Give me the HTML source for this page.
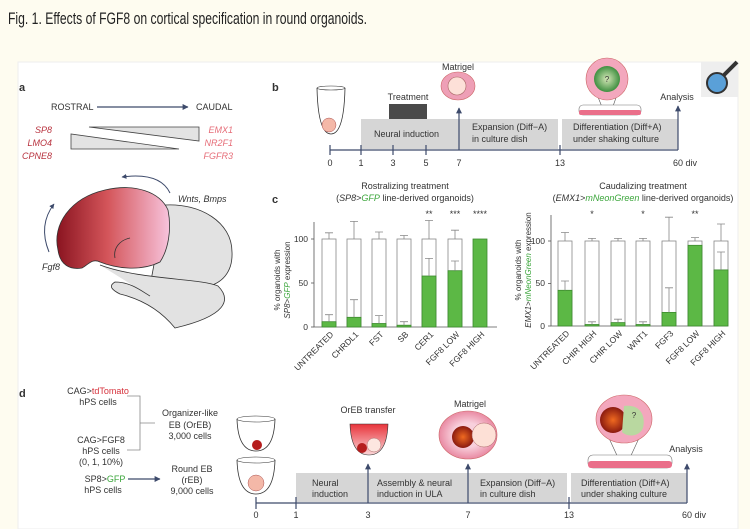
<!DOCTYPE html>
<html><head><meta charset="utf-8"><style>
html,body{margin:0;padding:0;background:#fefcf0;}
svg{display:block;font-family:"Liberation Sans",sans-serif;}
</style></head><body>
<svg width="750" height="529" viewBox="0 0 750 529" xmlns="http://www.w3.org/2000/svg">
<defs>
<linearGradient id="ctx" x1="0" x2="1" y1="0" y2="0">
<stop offset="0" stop-color="#8a1420"/><stop offset="0.45" stop-color="#d4555a"/><stop offset="1" stop-color="#f7c3dc"/></linearGradient>
<radialGradient id="pk"><stop offset="0.5" stop-color="#f8d0dc"/><stop offset="1" stop-color="#e98aa3"/></radialGradient>
<radialGradient id="rb"><stop offset="0" stop-color="#f06a20"/><stop offset="1" stop-color="#8a1a10"/></radialGradient>
<radialGradient id="gb"><stop offset="0" stop-color="#d6e8b8"/><stop offset="1" stop-color="#3f8f40"/></radialGradient>
<linearGradient id="cupr" x1="0" x2="0" y1="0" y2="1"><stop offset="0" stop-color="#e8333a"/><stop offset="1" stop-color="#fbd6d8"/></linearGradient>
<marker id="ah" viewBox="0 0 10 10" refX="9" refY="5" markerWidth="5" markerHeight="5" orient="auto"><path d="M0,0 L10,5 L0,10 z" fill="#3d4a6b"/></marker>
</defs>
<rect x="0" y="0" width="750" height="529" fill="#fefcf0"/>
<text x="8" y="24" font-size="17" fill="#222" textLength="359" lengthAdjust="spacingAndGlyphs">Fig. 1. Effects of FGF8 on cortical specification in round organoids.</text>
<rect x="18" y="62" width="720" height="467" fill="#fff" stroke="#eee"/>
<rect x="701" y="62" width="37" height="35" fill="#eeeeee"/>
<circle cx="717" cy="83" r="10" fill="#5aa0d8" stroke="#333" stroke-width="2"/>
<line x1="724" y1="75" x2="737" y2="62" stroke="#333" stroke-width="4"/>

<g font-size="9" fill="#333">
<!-- panel a -->
<text x="19" y="91" font-size="11" font-weight="bold">a</text>
<text x="51" y="110">ROSTRAL</text>
<line x1="97" y1="107" x2="188" y2="107" stroke="#3d4a6b" stroke-width="1.2" marker-end="url(#ah)"/>
<text x="196" y="110">CAUDAL</text>
<polygon points="89,127 199,127 199,141" fill="#e3e3e3" stroke="#444" stroke-width="0.8"/>
<polygon points="71,134 71,149 179,149" fill="#e3e3e3" stroke="#444" stroke-width="0.8"/>
<g font-style="italic" fill="#b8323e" text-anchor="end"><text x="52" y="133">SP8</text><text x="52" y="146">LMO4</text><text x="52" y="159">CPNE8</text></g>
<g font-style="italic" fill="#e66d78" text-anchor="end"><text x="233" y="133">EMX1</text><text x="233" y="146">NR2F1</text><text x="233" y="159">FGFR3</text></g>
<path d="M165,205 C200,203 232,222 232,252 C233,272 222,284 205,287 L150,286 Z" fill="#e2e2e2" stroke="#333" stroke-width="0.8"/>
<path d="M100,265 C140,280 200,278 218,286 C232,300 226,316 175,328 C162,312 145,300 120,294 C112,290 108,286 115,282 C130,282 140,290 150,296" fill="#e2e2e2" stroke="#333" stroke-width="0.8"/>
<path d="M58,250 C52,225 70,198 105,190 C135,183 160,192 168,210 C172,230 168,250 160,262 C140,272 115,268 100,262 C92,258 88,265 82,268 C70,270 60,265 58,250 Z" fill="url(#ctx)" stroke="#333" stroke-width="0.8"/>
<path d="M115,258 C113,248 120,240 130,238" fill="none" stroke="#333" stroke-width="0.8"/>
<path d="M170,193 Q160,172 122,177" fill="none" stroke="#3d4a6b" stroke-width="1" marker-end="url(#ah)"/>
<path d="M49,252 Q38,225 54,204" fill="none" stroke="#3d4a6b" stroke-width="1" marker-end="url(#ah)"/>
<text x="178" y="202" font-style="italic">Wnts, Bmps</text>
<text x="42" y="270" font-style="italic">Fgf8</text>

<!-- panel b -->
<text x="272" y="91" font-size="11" font-weight="bold">b</text>
<path d="M317,88 Q318,134 331,134 Q344,134 345,88" fill="#fff" stroke="#333" stroke-width="0.8"/>
<ellipse cx="331" cy="88" rx="14" ry="2" fill="#fff" stroke="#333" stroke-width="0.6"/>
<circle cx="329" cy="125" r="7" fill="#f4b8a8" stroke="#a55" stroke-width="0.5"/>
<rect x="361" y="119" width="197" height="30" fill="#d6d6d6"/>
<rect x="562" y="119" width="116" height="30" fill="#d6d6d6"/>
<rect x="389" y="104" width="38" height="15" fill="#4a4a4a"/>
<text x="408" y="100" text-anchor="middle">Treatment</text>
<text x="374" y="137">Neural induction</text>
<text x="472" y="130">Expansion (Diff−A)</text><text x="472" y="142">in culture dish</text>
<text x="573" y="130">Differentiation (Diff+A)</text><text x="573" y="142">under shaking culture</text>
<line x1="330" y1="150" x2="678" y2="150" stroke="#3d4a6b" stroke-width="1.2"/>
<g stroke="#3d4a6b" stroke-width="1.2"><line x1="330" y1="145" x2="330" y2="155"/><line x1="361" y1="145" x2="361" y2="155"/><line x1="393" y1="145" x2="393" y2="155"/><line x1="426" y1="145" x2="426" y2="155"/><line x1="560" y1="145" x2="560" y2="155"/></g>
<line x1="459" y1="150" x2="459" y2="108" stroke="#3d4a6b" stroke-width="1.2" marker-end="url(#ah)"/>
<line x1="678" y1="150" x2="678" y2="106" stroke="#3d4a6b" stroke-width="1.2" marker-end="url(#ah)"/>
<g text-anchor="middle"><text x="330" y="166">0</text><text x="361" y="166">1</text><text x="393" y="166">3</text><text x="426" y="166">5</text><text x="459" y="166">7</text><text x="560" y="166">13</text><text x="685" y="166">60 div</text></g>
<ellipse cx="458" cy="86" rx="17" ry="14" fill="#ee9fb6" stroke="#c66" stroke-width="0.6"/>
<circle cx="457" cy="86" r="9" fill="#fde0d8" stroke="#a66" stroke-width="0.6"/>
<text x="458" y="70" text-anchor="middle">Matrigel</text>
<line x1="596" y1="92" x2="604" y2="112" stroke="#555" stroke-width="0.6"/><line x1="618" y1="92" x2="611" y2="112" stroke="#555" stroke-width="0.6"/>
<rect x="579" y="105" width="62" height="10" rx="4" fill="#fff" stroke="#777" stroke-width="0.6"/>
<rect x="579" y="110" width="62" height="5" rx="2" fill="#ea6f8a"/>
<circle cx="607" cy="79" r="21" fill="#f3a7bd" stroke="#c66" stroke-width="0.6"/>
<circle cx="607" cy="79" r="13" fill="url(#gb)"/>
<text x="607" y="82" text-anchor="middle" font-size="8">?</text>
<text x="677" y="100" text-anchor="middle">Analysis</text>

<!-- panel c -->
<text x="272" y="203" font-size="11" font-weight="bold">c</text>
<text x="405" y="189" text-anchor="middle">Rostralizing treatment</text>
<text x="405" y="201" text-anchor="middle">(<tspan font-style="italic">SP8</tspan>&gt;<tspan font-style="italic" fill="#3aa53a">GFP</tspan> line-derived organoids)</text>
<text x="643" y="189" text-anchor="middle">Caudalizing treatment</text>
<text x="643" y="201" text-anchor="middle">(<tspan font-style="italic">EMX1</tspan>&gt;<tspan font-style="italic" fill="#3aa53a">mNeonGreen</tspan> line-derived organoids)</text>
<g stroke="#555" stroke-width="0.8" fill="none">
<path d="M314,222 L314,327 L497,327"/><line x1="311" y1="239" x2="314" y2="239"/><line x1="311" y1="283" x2="314" y2="283"/><line x1="311" y1="327" x2="314" y2="327"/>
<path d="M551,215 L551,326 L727,326"/><line x1="548" y1="241" x2="551" y2="241"/><line x1="548" y1="283.5" x2="551" y2="283.5"/><line x1="548" y1="326" x2="551" y2="326"/>
</g>
<g text-anchor="end" font-size="8.5"><text x="308" y="242">100</text><text x="308" y="286">50</text><text x="308" y="330">0</text><text x="545" y="244">100</text><text x="545" y="286">50</text><text x="545" y="329">0</text></g>
<g font-size="8" text-anchor="middle">
<text transform="translate(280,280) rotate(-90)">% organoids with</text>
<text transform="translate(290,280) rotate(-90)"><tspan font-style="italic">SP8</tspan>&gt;<tspan font-style="italic" fill="#3aa53a">GFP</tspan> expression</text>
<text transform="translate(521,270) rotate(-90)">% organoids with</text>
<text transform="translate(531,270) rotate(-90)"><tspan font-style="italic">EMX1</tspan>&gt;<tspan font-style="italic" fill="#3aa53a">mNeonGreen</tspan> expression</text>
</g>
<g stroke-width="0.8">
<g fill="#fff" stroke="#888">
<rect x="322" y="239" width="14" height="88"/><rect x="347" y="239" width="14" height="88"/><rect x="372" y="239" width="14" height="88"/><rect x="397" y="239" width="14" height="88"/><rect x="422" y="239" width="14" height="88"/><rect x="448" y="239" width="14" height="88"/>
</g>
<g fill="#5cb845" stroke="#3d8a2e">
<rect x="322" y="321.7" width="14" height="5.3"/><rect x="347" y="317.3" width="14" height="9.7"/><rect x="372" y="323.5" width="14" height="3.5"/><rect x="397" y="325.2" width="14" height="1.8"/><rect x="422" y="276" width="14" height="51"/><rect x="448" y="270.7" width="14" height="56.3"/><rect x="473" y="239" width="14" height="88"/>
</g>
<g stroke="#888" fill="none">
<path d="M329,239V232.8M325,232.8H333"/><path d="M354,239V221.4M350,221.4H358"/><path d="M379,239V232M375,232H383"/><path d="M404,239V235.5M400,235.5H408"/><path d="M429,239V220.5M425,220.5H433"/><path d="M455,239V230.2M451,230.2H459"/>
<path d="M329,321.7V314.7M325,314.7H333"/><path d="M354,317.3V299.7M350,299.7H358"/><path d="M379,323.5V315.6M375,315.6H383"/><path d="M404,325.2V321.7M400,321.7H408"/><path d="M429,276V258.4M425,258.4H433"/><path d="M455,270.7V261M451,261H459"/>
</g>
<g fill="#fff" stroke="#888">
<rect x="558" y="241" width="14" height="85"/><rect x="585" y="241" width="14" height="85"/><rect x="611" y="241" width="14" height="85"/><rect x="636" y="241" width="14" height="85"/><rect x="662" y="241" width="14" height="85"/><rect x="688" y="241" width="14" height="85"/><rect x="714" y="241" width="14" height="85"/>
</g>
<g fill="#5cb845" stroke="#3d8a2e">
<rect x="558" y="290.3" width="14" height="35.7"/><rect x="585" y="324.5" width="14" height="1.5"/><rect x="611" y="322.6" width="14" height="3.4"/><rect x="636" y="324.5" width="14" height="1.5"/><rect x="662" y="312.4" width="14" height="13.6"/><rect x="688" y="245.3" width="14" height="80.7"/><rect x="714" y="269.9" width="14" height="56.1"/>
</g>
<g stroke="#888" fill="none">
<path d="M565,241V232.5M561,232.5H569"/><path d="M592,241V238.4M588,238.4H596"/><path d="M618,241V238.4M614,238.4H622"/><path d="M643,241V238.4M639,238.4H647"/><path d="M669,241V217.2M665,217.2H673"/><path d="M695,241V237.6M691,237.6H699"/><path d="M721,241V224M717,224H725"/>
<path d="M565,290.3V281M561,281H569"/><path d="M592,324.5V321.8M588,321.8H596"/><path d="M618,322.6V319.2M614,319.2H622"/><path d="M643,324.5V321.8M639,321.8H647"/><path d="M669,312.4V287.8M665,287.8H673"/><path d="M721,269.9V252M717,252H725"/>
</g>
</g>
<g text-anchor="middle" font-size="9"><text x="429" y="217">**</text><text x="455" y="217">***</text><text x="480" y="217">****</text><text x="592" y="217">*</text><text x="643" y="217">*</text><text x="695" y="217">**</text></g>
<g text-anchor="end" font-size="8.5">
<text transform="translate(334,335) rotate(-45)">UNTREATED</text>
<text transform="translate(359,335) rotate(-45)">CHRDL1</text>
<text transform="translate(384,335) rotate(-45)">FST</text>
<text transform="translate(409,335) rotate(-45)">SB</text>
<text transform="translate(434,335) rotate(-45)">CER1</text>
<text transform="translate(460,335) rotate(-45)">FGF8 LOW</text>
<text transform="translate(485,335) rotate(-45)">FGF8 HIGH</text>
<text transform="translate(570,334) rotate(-45)">UNTREATED</text>
<text transform="translate(597,334) rotate(-45)">CHIR HIGH</text>
<text transform="translate(623,334) rotate(-45)">CHIR LOW</text>
<text transform="translate(648,334) rotate(-45)">WNT1</text>
<text transform="translate(674,334) rotate(-45)">FGF3</text>
<text transform="translate(700,334) rotate(-45)">FGF8 LOW</text>
<text transform="translate(726,334) rotate(-45)">FGF8 HIGH</text>
</g>

<!-- panel d -->
<text x="19" y="397" font-size="11" font-weight="bold">d</text>
<g text-anchor="middle">
<text x="98" y="394">CAG&gt;<tspan fill="#d6323c">tdTomato</tspan></text><text x="98" y="405">hPS cells</text>
<text x="101" y="443">CAG&gt;FGF8</text><text x="101" y="454">hPS cells</text><text x="101" y="465">(0, 1, 10%)</text>
<text x="105" y="482">SP8&gt;<tspan fill="#3aa53a">GFP</tspan></text><text x="103" y="493">hPS cells</text>
<text x="190" y="416">Organizer-like</text><text x="190" y="428">EB (OrEB)</text><text x="190" y="439">3,000 cells</text>
<text x="192" y="472">Round EB</text><text x="192" y="483">(rEB)</text><text x="192" y="494">9,000 cells</text>
</g>
<path d="M127,396H140V450H127M140,423H155" fill="none" stroke="#888" stroke-width="0.8"/>
<line x1="128" y1="479" x2="160" y2="479" stroke="#3d4a6b" stroke-width="1.2" marker-end="url(#ah)"/>
<path d="M237,419 Q238,451 256,451 Q274,451 275,419" fill="#fff" stroke="#333" stroke-width="0.8"/>
<ellipse cx="256" cy="419" rx="19" ry="3" fill="#fff" stroke="#333" stroke-width="0.6"/>
<circle cx="257" cy="445" r="5" fill="#b51d1d"/>
<path d="M237,460 Q238,494 256,494 Q274,494 275,460" fill="#fff" stroke="#333" stroke-width="0.8"/>
<ellipse cx="256" cy="460" rx="19" ry="3" fill="#fff" stroke="#333" stroke-width="0.6"/>
<circle cx="256" cy="483" r="8" fill="#f4b8a8" stroke="#a55" stroke-width="0.5"/>
<rect x="296" y="473" width="271" height="29" fill="#d6d6d6"/>
<rect x="571" y="473" width="116" height="29" fill="#d6d6d6"/>
<text x="312" y="486">Neural</text><text x="312" y="497">induction</text>
<text x="377" y="486">Assembly &amp; neural</text><text x="377" y="497">induction in ULA</text>
<text x="480" y="486">Expansion (Diff−A)</text><text x="480" y="497">in culture dish</text>
<text x="581" y="486">Differentiation (Diff+A)</text><text x="581" y="497">under shaking culture</text>
<line x1="256" y1="503" x2="687" y2="503" stroke="#3d4a6b" stroke-width="1.2"/>
<g stroke="#3d4a6b" stroke-width="1.2"><line x1="256" y1="497" x2="256" y2="509"/><line x1="296" y1="497" x2="296" y2="509"/><line x1="569" y1="497" x2="569" y2="509"/></g>
<line x1="368" y1="503" x2="368" y2="464" stroke="#3d4a6b" stroke-width="1.2" marker-end="url(#ah)"/>
<line x1="468" y1="503" x2="468" y2="464" stroke="#3d4a6b" stroke-width="1.2" marker-end="url(#ah)"/>
<line x1="687" y1="503" x2="687" y2="464" stroke="#3d4a6b" stroke-width="1.2" marker-end="url(#ah)"/>
<g text-anchor="middle"><text x="256" y="518">0</text><text x="296" y="518">1</text><text x="368" y="518">3</text><text x="468" y="518">7</text><text x="569" y="518">13</text><text x="694" y="518">60 div</text></g>
<path d="M350,424 Q351,455 369,455 Q387,455 388,424 Z" fill="url(#cupr)" stroke="#333" stroke-width="0.6"/>
<circle cx="362" cy="448" r="5" fill="#b51d1d"/><circle cx="374" cy="445" r="7" fill="#fde6e0" stroke="#a66" stroke-width="0.5"/>
<text x="368" y="413" text-anchor="middle">OrEB transfer</text>
<ellipse cx="468" cy="435" rx="29" ry="24" fill="url(#pk)" stroke="#c66" stroke-width="0.6"/>
<circle cx="463" cy="437" r="11" fill="url(#rb)"/><circle cx="484" cy="435" r="12" fill="#fde0d6" stroke="#a66" stroke-width="0.5"/>
<text x="470" y="407" text-anchor="middle">Matrigel</text>
<line x1="608" y1="436" x2="620" y2="462" stroke="#555" stroke-width="0.6"/><line x1="640" y1="436" x2="628" y2="462" stroke="#555" stroke-width="0.6"/>
<rect x="588" y="455" width="84" height="13" rx="5" fill="#fff" stroke="#777" stroke-width="0.6"/>
<rect x="588" y="461" width="84" height="7" rx="3" fill="#ea6f8a"/>
<ellipse cx="624" cy="419" rx="28" ry="24" fill="#f3a7bd" stroke="#c66" stroke-width="0.6"/>
<circle cx="613" cy="420" r="13" fill="url(#rb)"/>
<path d="M624,406 C640,404 646,415 643,428 C640,436 628,438 622,432 Z" fill="#b9d8a0"/>
<text x="634" y="418" text-anchor="middle" font-size="8">?</text>
<text x="686" y="452" text-anchor="middle">Analysis</text>
</g>
</svg>
</body></html>
